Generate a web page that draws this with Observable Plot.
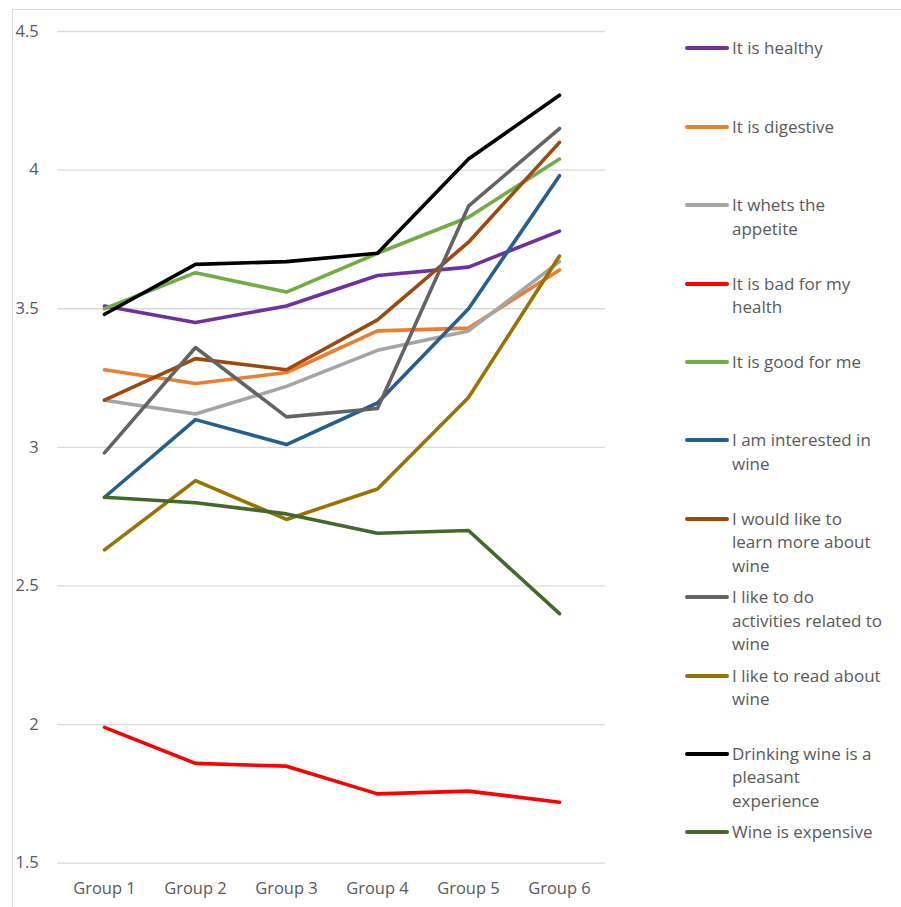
<!DOCTYPE html>
<html>
<head>
<meta charset="utf-8">
<script src="https://cdn.jsdelivr.net/npm/d3@7"></script>
<script src="https://cdn.jsdelivr.net/npm/@observablehq/plot@0.6"></script>
<style>
  html, body { margin: 0; padding: 0; background: #fff; overflow: hidden; }
  #wrap { position: relative; width: 901px; height: 907px; font-family: "Open Sans", sans-serif; color: #595959; }
  #frame { position: absolute; left: 12px; top: 9px; width: 1000px; height: 1000px; border: 1px solid #d9d9d9; box-sizing: border-box; }
  #chart { position: absolute; left: 0; top: 0; }
  .leg { position: absolute; left: 685px; width: 210px; }
  .sw { position: absolute; left: 0; top: 10px; width: 44px; height: 4px; border-radius: 2px; }
  .lab { position: absolute; left: 47px; top: 0; white-space: pre; font-size: 17px; line-height: 23.4px; }
</style>
</head>
<body>
<div id="wrap"><div id="frame"></div><div id="chart"></div><div id="legend"></div></div>
<script>
const groups = ["Group 1", "Group 2", "Group 3", "Group 4", "Group 5", "Group 6"];
const legendLabels = [
  "It is healthy",
  "It is digestive",
  "It whets the\nappetite",
  "It is bad for my\nhealth",
  "It is good for me",
  "I am interested in\nwine",
  "I would like to\nlearn more about\nwine",
  "I like to do\nactivities related to\nwine",
  "I like to read about\nwine",
  "Drinking wine is a\npleasant\nexperience",
  "Wine is expensive"
];
const seriesNames = legendLabels.map(s => s.replace(/\n/g, " "));
const seriesColors = ["#7030A0", "#ED7D31", "#A5A5A5", "#FF0000", "#70AD47", "#255E91", "#9E480E", "#636363", "#997300", "#000000", "#43682B"];

const healthy     = [3.51, 3.45, 3.51, 3.62, 3.65, 3.78];
const digestive   = [3.28, 3.23, 3.27, 3.42, 3.43, 3.64];
const appetite    = [3.17, 3.12, 3.22, 3.35, 3.42, 3.67];
const badHealth   = [1.99, 1.86, 1.85, 1.75, 1.76, 1.72];
const goodForMe   = [3.50, 3.63, 3.56, 3.70, 3.83, 4.04];
const interested  = [2.82, 3.10, 3.01, 3.16, 3.50, 3.98];
const learnMore   = [3.17, 3.32, 3.28, 3.46, 3.74, 4.10];
const activities  = [2.98, 3.36, 3.11, 3.14, 3.87, 4.15];
const readAbout   = [2.63, 2.88, 2.74, 2.85, 3.18, 3.69];
const pleasant    = [3.48, 3.66, 3.67, 3.70, 4.04, 4.27];
const expensive   = [2.82, 2.80, 2.76, 2.69, 2.70, 2.40];

const yTicks = [1.5, 2, 2.5, 3, 3.5, 4, 4.5];

const allValues = [healthy, digestive, appetite, badHealth, goodForMe, interested, learnMore, activities, readAbout, pleasant, expensive];
const data = [];
allValues.forEach((vals, si) => vals.forEach((v, gi) => data.push({series: seriesNames[si], group: groups[gi], value: v})));

const chart = Plot.plot({
  width: 620,
  height: 907,
  marginLeft: 57.3,
  marginRight: 15,
  marginTop: 31,
  marginBottom: 44.3,
  style: {fontFamily: "Open Sans, sans-serif", fontSize: "16.5px", color: "#595959", background: "transparent", overflow: "visible"},
  x: {type: "point", domain: groups, padding: 0.5, label: null},
  y: {domain: [1.5, 4.5], label: null},
  color: {domain: seriesNames, range: seriesColors},
  marks: [
    Plot.gridY(yTicks, {stroke: "#d9d9d9", strokeOpacity: 1, strokeWidth: 1.3}),
    Plot.axisY(yTicks, {tickSize: 0, tickPadding: 19, fill: "#595959", label: null, tickFormat: d => String(d)}),
    Plot.axisX({tickSize: 0, tickPadding: 19, fill: "#595959", label: null}),
    Plot.lineY(data, {x: "group", y: "value", z: "series", stroke: "series", strokeWidth: 3.6, strokeLinecap: "round", strokeLinejoin: "round"})
  ]
});
document.getElementById("chart").appendChild(chart);

const legend = document.getElementById("legend");
legendLabels.forEach((lab, i) => {
  const d = document.createElement("div");
  d.className = "leg";
  d.style.top = (36.3 + i * 78.4) + "px";
  const sw = document.createElement("div");
  sw.className = "sw";
  sw.style.background = seriesColors[i];
  const t = document.createElement("div");
  t.className = "lab";
  t.textContent = lab;
  d.appendChild(sw);
  d.appendChild(t);
  legend.appendChild(d);
});
</script>
</body>
</html>
